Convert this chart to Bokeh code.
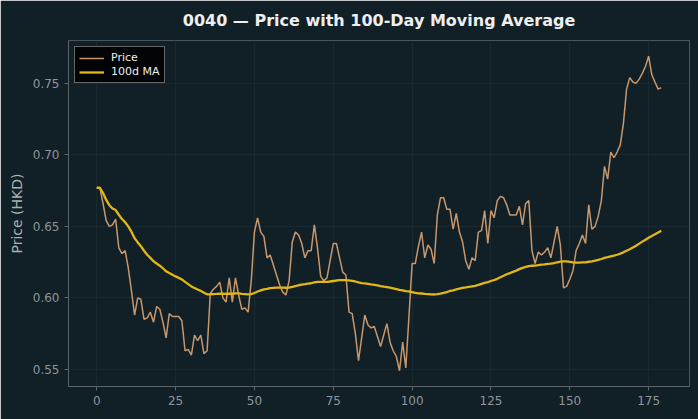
import pandas as pd
from bokeh.plotting import figure
from bokeh.models import FixedTicker, Range1d, NumeralTickFormatter
from bokeh.embed import file_html
from bokeh.resources import INLINE

# Daily closing prices for 0040 (HKD), trading-day index 0..179
price = [
    0.677, 0.677, 0.666, 0.654, 0.650, 0.651, 0.655, 0.635, 0.631, 0.633,
    0.621, 0.605, 0.588, 0.600, 0.599, 0.585, 0.586, 0.590, 0.583, 0.594,
    0.592, 0.583, 0.572, 0.589, 0.587, 0.587, 0.587, 0.584, 0.563, 0.564,
    0.560, 0.574, 0.570, 0.574, 0.561, 0.563, 0.603, 0.606, 0.608, 0.611,
    0.600, 0.597, 0.614, 0.597, 0.614, 0.602, 0.592, 0.593, 0.590, 0.612,
    0.646, 0.656, 0.646, 0.643, 0.628, 0.630, 0.623, 0.616, 0.609, 0.604,
    0.602, 0.612, 0.639, 0.646, 0.644, 0.638, 0.628, 0.633, 0.633, 0.651,
    0.635, 0.615, 0.612, 0.614, 0.626, 0.638, 0.638, 0.628, 0.618, 0.616,
    0.590, 0.589, 0.575, 0.556, 0.572, 0.588, 0.581, 0.579, 0.580, 0.573,
    0.566, 0.574, 0.582, 0.569, 0.563, 0.559, 0.549, 0.569, 0.551, 0.587,
    0.624, 0.624, 0.636, 0.646, 0.628, 0.637, 0.634, 0.624, 0.658, 0.670,
    0.670, 0.662, 0.662, 0.648, 0.659, 0.646, 0.639, 0.626, 0.620, 0.628,
    0.626, 0.646, 0.647, 0.661, 0.638, 0.661, 0.656, 0.668, 0.671, 0.670,
    0.665, 0.658, 0.658, 0.658, 0.664, 0.651, 0.666, 0.668, 0.633, 0.624,
    0.632, 0.630, 0.632, 0.635, 0.628, 0.639, 0.650, 0.637, 0.607, 0.608,
    0.613, 0.619, 0.633, 0.638, 0.644, 0.638, 0.665, 0.648, 0.650, 0.657,
    0.668, 0.692, 0.683, 0.702, 0.698, 0.702, 0.707, 0.722, 0.746, 0.754,
    0.751, 0.750, 0.753, 0.757, 0.762, 0.769, 0.756, 0.751, 0.746, 0.747,
]
days = list(range(len(price)))

x_ticks = [0, 25, 50, 75, 100, 125, 150, 175]
y_ticks = [0.55, 0.60, 0.65, 0.70, 0.75]

# 100-day moving average (expanding until a full window is available)
ma100 = pd.Series(price).rolling(100, min_periods=1).mean().tolist()

BG = "#111f26"
GRID = "#1a2930"
AXIS = "#5b6469"
TICK_TXT = "#8e969b"
FONT = "DejaVu Sans"

# 5% padding around the data, like the default autoscale margins
x_lo, x_hi = min(days), max(days)
y_lo, y_hi = min(price + ma100), max(price + ma100)
xpad = (x_hi - x_lo) * 0.05
ypad = (y_hi - y_lo) * 0.05

p = figure(
    width=698, height=419,
    output_backend="svg", toolbar_location=None,
    x_range=Range1d(x_lo - xpad, x_hi + xpad),
    y_range=Range1d(y_lo - ypad, y_hi + ypad),
    min_border_left=68, min_border_right=9,
    min_border_top=40, min_border_bottom=33,
    background_fill_color=BG, border_fill_color=BG,
)
p.outline_line_color = None

p.title.text = "0040 \u2014 Price with 100-Day Moving Average"
p.title.align = "center"
p.title.text_color = "#eeeeee"
p.title.text_font = FONT
p.title.text_font_size = "16px"
p.title.text_font_style = "bold"
p.title.standoff = 17
p.title.vertical_align = "top"

p.line(days, price, line_color="#c8976b", line_width=1.5, legend_label="Price")
p.line(days, ma100, line_color="#e3b714", line_width=2.3, legend_label="100d MA")

p.xaxis.ticker = FixedTicker(ticks=x_ticks)
p.yaxis.ticker = FixedTicker(ticks=y_ticks)
p.yaxis.formatter = NumeralTickFormatter(format="0.00")
p.yaxis.axis_label = "Price (HKD)"

for ax in (p.xaxis, p.yaxis):
    ax.axis_line_color = AXIS
    ax.major_tick_line_color = AXIS
    ax.major_tick_out = 4
    ax.major_tick_in = 0
    ax.minor_tick_line_color = None
    ax.major_label_text_color = TICK_TXT
    ax.major_label_text_font = FONT
    ax.major_label_text_font_size = "12px"
    ax.axis_label_text_color = "#aab1b5"
    ax.axis_label_text_font = FONT
    ax.axis_label_text_font_size = "14px"
    ax.axis_label_text_font_style = "normal"

p.xgrid.grid_line_color = GRID
p.ygrid.grid_line_color = GRID
p.xgrid.grid_line_width = 1
p.ygrid.grid_line_width = 1

lg = p.legend[0]
lg.location = "top_left"
lg.margin = 6
lg.padding = 4
lg.spacing = 1
lg.background_fill_color = "#000000"
lg.background_fill_alpha = 0.85
lg.border_line_color = "#c8c8c8"
lg.border_line_width = 1
lg.label_text_color = "#eeeeee"
lg.label_text_font = FONT
lg.label_text_font_size = "11px"
lg.glyph_width = 25
lg.glyph_height = 12
lg.label_height = 12
lg.label_standoff = 7

open("out.html", "w").write(file_html(p, INLINE))
